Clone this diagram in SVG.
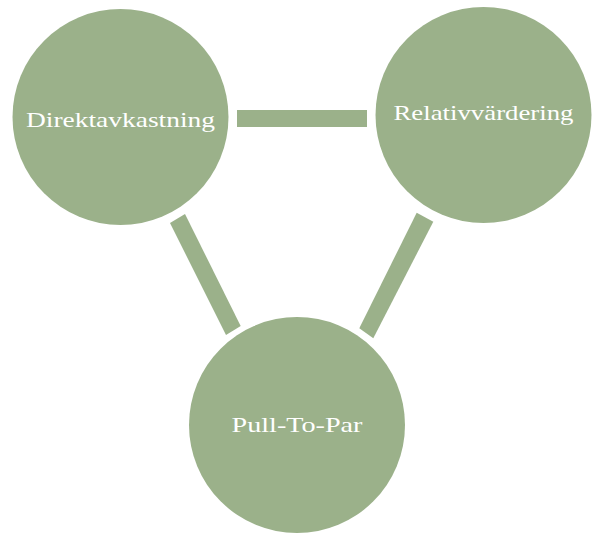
<svg xmlns="http://www.w3.org/2000/svg" width="595" height="534" viewBox="0 0 595 534">
<style>
.n{fill:#9BB18A}
.c{fill:#9BB18A}
.t{font-family:"Liberation Serif","DejaVu Serif",serif;font-size:22px;fill:#FFFFFF;text-anchor:middle}
</style>
<rect width="595" height="534" fill="#FFFFFF"/>
<g id="connectors">
<rect class="c" x="237" y="110" width="130" height="17"/>
<polygon class="c" points="170,223 185,214 240.7,326 226,335"/>
<polygon class="c" points="416.7,212.7 433.3,221.7 373.3,338.3 359.3,328.3"/>
</g>
<g id="node-direktavkastning">
<circle class="n" cx="120.5" cy="117" r="108"/>
<text class="t" x="120.5" y="126.5" textLength="189" lengthAdjust="spacingAndGlyphs">Direktavkastning</text>
</g>
<g id="node-relativvardering">
<circle class="n" cx="483.5" cy="115" r="108"/>
<text class="t" x="483.5" y="120" textLength="180" lengthAdjust="spacingAndGlyphs">Relativvärdering</text>
</g>
<g id="node-pulltopar">
<circle class="n" cx="297" cy="425" r="108"/>
<text class="t" x="297" y="431.5" textLength="131" lengthAdjust="spacingAndGlyphs">Pull-To-Par</text>
</g>
</svg>
